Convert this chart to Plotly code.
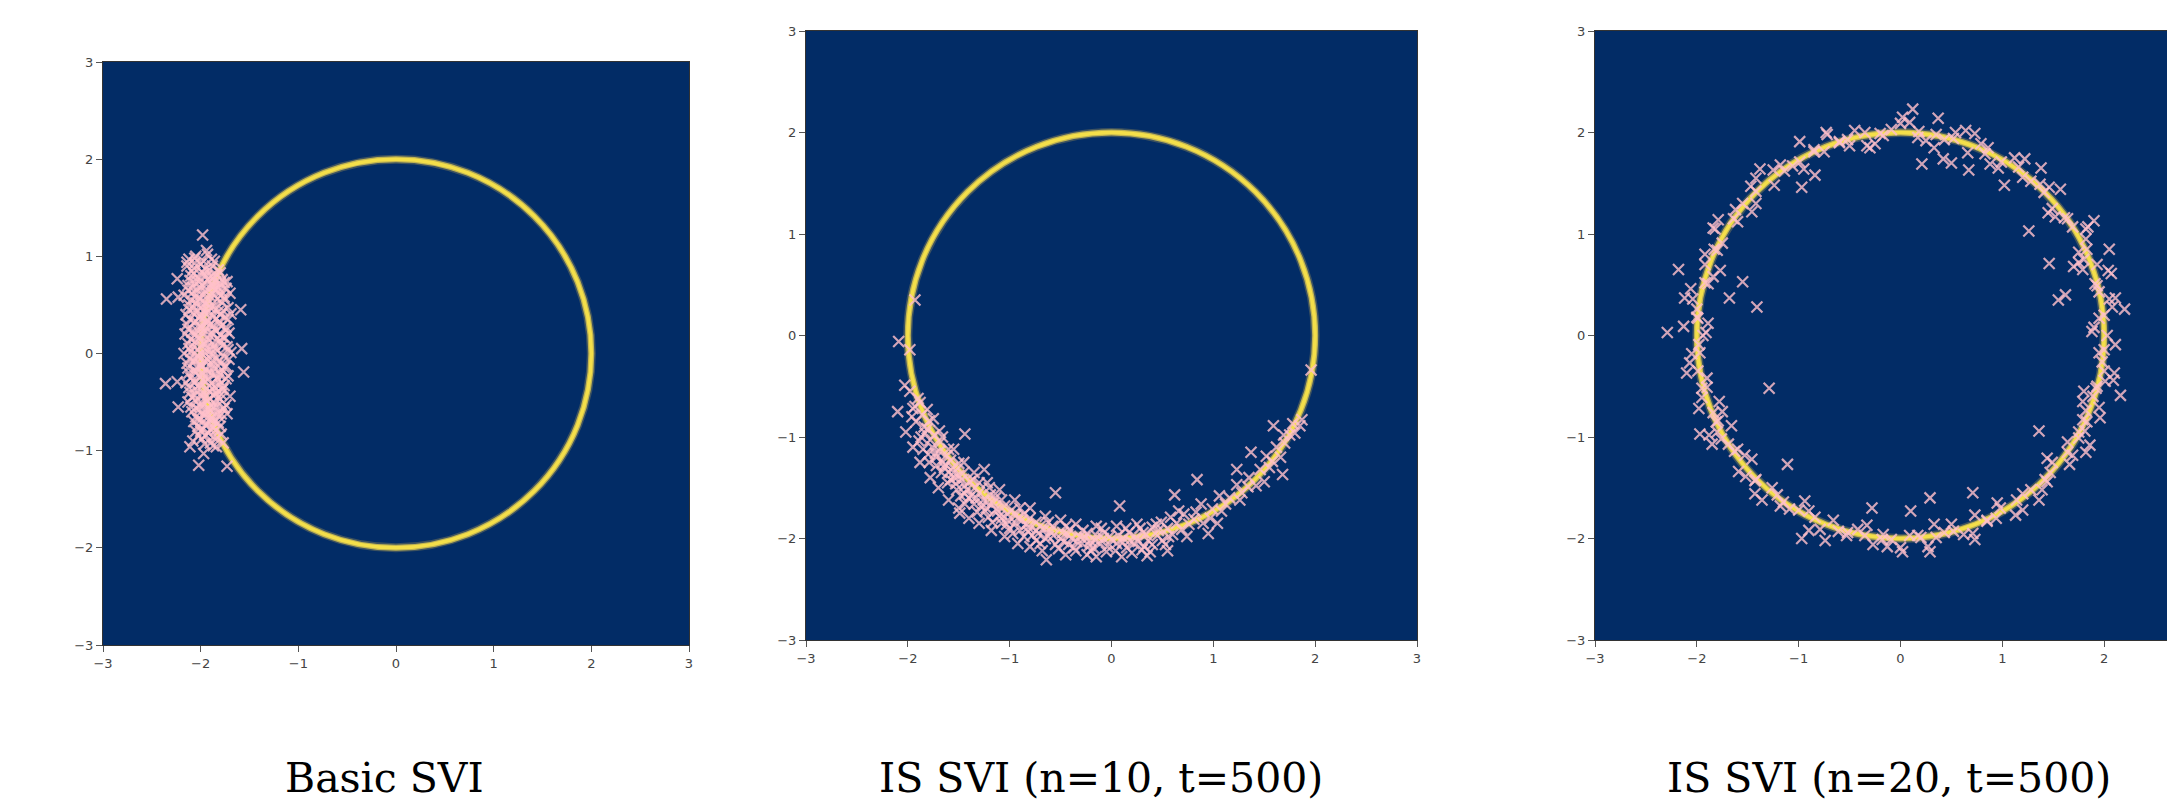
import plotly.graph_objects as go

# ---------------- data ----------------
titles = ["Basic SVI", "IS SVI (n=10, t=500)", "IS SVI (n=20, t=500)"]
tick_vals = [-3, -2, -1, 0, 1, 2, 3]
ring_radius = 2.0
ring_center = (0.0, 0.0)

# Panel 1: Basic SVI samples (x, y)
basic_svi_points = [
    (-1.98, 1.22), (-2.24, 0.77), (-2.35, 0.56), (-2.23, 0.58), (-1.59, 0.45), (-2.36, -0.31),
    (-2.24, -0.29), (-1.56, -0.19), (-2.23, -0.55), (-1.58, 0.05), (-1.73, -1.16), (-2.02, -1.15),
    (-1.94, 1.06), (-2.06, 0.98), (-2.14, 0.94), (-1.73, -0.62), (-1.70, -0.44), (-1.97, -1.03),
    (-2.11, -0.96), (-1.84, -0.96), (-1.77, -0.92), (-1.73, 0.74), (-1.70, 0.62),
    (-2.12, 0.97), (-2.05, 1.00), (-1.93, 1.02), (-1.86, 0.95),
    (-2.14, 0.90), (-2.07, 0.88), (-2.00, 0.92), (-1.95, 0.87), (-1.88, 0.90), (-1.82, 0.86),
    (-2.10, 0.80), (-2.03, 0.78), (-1.97, 0.82), (-1.90, 0.79), (-1.84, 0.81), (-1.78, 0.76),
    (-2.13, 0.70), (-2.06, 0.72), (-2.00, 0.68), (-1.94, 0.71), (-1.87, 0.69), (-1.80, 0.72), (-1.74, 0.67),
    (-2.17, 0.60), (-2.09, 0.62), (-2.02, 0.58), (-1.96, 0.61), (-1.90, 0.59), (-1.83, 0.63), (-1.76, 0.58),
    (-2.12, 0.50), (-2.05, 0.52), (-1.99, 0.48), (-1.93, 0.51), (-1.86, 0.49), (-1.79, 0.53), (-1.72, 0.47),
    (-2.15, 0.40), (-2.08, 0.42), (-2.01, 0.38), (-1.95, 0.41), (-1.89, 0.39), (-1.82, 0.43), (-1.75, 0.37), (-1.69, 0.41),
    (-2.14, 0.30), (-2.07, 0.32), (-2.00, 0.28), (-1.94, 0.31), (-1.87, 0.29), (-1.81, 0.33), (-1.74, 0.27),
    (-2.16, 0.20), (-2.09, 0.22), (-2.03, 0.18), (-1.97, 0.21), (-1.91, 0.19), (-1.84, 0.23), (-1.77, 0.17), (-1.71, 0.21),
    (-2.13, 0.10), (-2.06, 0.12), (-1.99, 0.08), (-1.93, 0.11), (-1.86, 0.09), (-1.80, 0.13), (-1.73, 0.07),
    (-2.17, 0.00), (-2.10, 0.02), (-2.03, -0.02), (-1.96, 0.01), (-1.90, -0.01), (-1.83, 0.03), (-1.76, -0.03), (-1.69, 0.01),
    (-2.14, -0.10), (-2.07, -0.08), (-2.00, -0.12), (-1.94, -0.09), (-1.88, -0.11), (-1.81, -0.07), (-1.74, -0.13),
    (-2.12, -0.20), (-2.05, -0.18), (-1.98, -0.22), (-1.92, -0.19), (-1.85, -0.21), (-1.78, -0.17), (-1.72, -0.23),
    (-2.15, -0.30), (-2.08, -0.28), (-2.01, -0.32), (-1.95, -0.29), (-1.89, -0.31), (-1.82, -0.27), (-1.76, -0.33),
    (-2.11, -0.40), (-2.04, -0.38), (-1.97, -0.42), (-1.91, -0.39), (-1.84, -0.41), (-1.78, -0.37),
    (-2.13, -0.50), (-2.06, -0.48), (-1.99, -0.52), (-1.93, -0.49), (-1.86, -0.51), (-1.80, -0.47), (-1.74, -0.53),
    (-2.09, -0.60), (-2.02, -0.58), (-1.96, -0.62), (-1.90, -0.59), (-1.83, -0.61), (-1.77, -0.57),
    (-2.07, -0.70), (-2.00, -0.68), (-1.94, -0.72), (-1.88, -0.69), (-1.82, -0.71),
    (-2.05, -0.80), (-1.98, -0.78), (-1.92, -0.82), (-1.85, -0.79), (-1.79, -0.83),
    (-2.08, -0.90), (-1.99, -0.88), (-1.90, -0.92), (-1.83, -0.87),
    (-2.09, 0.85), (-1.99, 0.84), (-1.91, 0.86), (-1.80, 0.83),
    (-2.11, 0.75), (-2.02, 0.74), (-1.93, 0.76), (-1.85, 0.74), (-1.76, 0.73),
    (-2.13, 0.65), (-2.04, 0.66), (-1.95, 0.64), (-1.86, 0.66), (-1.79, 0.64),
    (-2.10, 0.55), (-2.01, 0.56), (-1.92, 0.54), (-1.83, 0.56), (-1.75, 0.55),
    (-2.12, 0.45), (-2.03, 0.44), (-1.94, 0.46), (-1.85, 0.45), (-1.77, 0.44),
    (-2.11, 0.35), (-2.02, 0.36), (-1.93, 0.34), (-1.84, 0.36), (-1.72, 0.35),
    (-2.13, 0.25), (-2.04, 0.24), (-1.95, 0.26), (-1.86, 0.25), (-1.74, 0.24),
    (-2.10, 0.15), (-2.01, 0.16), (-1.92, 0.14), (-1.83, 0.15), (-1.75, 0.16),
    (-2.12, 0.05), (-2.03, 0.04), (-1.94, 0.06), (-1.85, 0.05), (-1.72, 0.04),
    (-2.11, -0.05), (-2.02, -0.04), (-1.93, -0.06), (-1.84, -0.05), (-1.71, -0.06),
    (-2.13, -0.15), (-2.04, -0.14), (-1.95, -0.16), (-1.86, -0.15), (-1.76, -0.14),
    (-2.10, -0.25), (-2.01, -0.24), (-1.92, -0.26), (-1.83, -0.25), (-1.74, -0.26),
    (-2.12, -0.35), (-2.03, -0.34), (-1.94, -0.36), (-1.85, -0.35), (-1.77, -0.36),
    (-2.09, -0.45), (-2.00, -0.44), (-1.91, -0.46), (-1.82, -0.45),
    (-2.10, -0.55), (-2.01, -0.54), (-1.92, -0.56), (-1.84, -0.55), (-1.76, -0.56),
    (-2.05, -0.65), (-1.97, -0.64), (-1.89, -0.66), (-1.81, -0.65),
    (-2.03, -0.75), (-1.95, -0.74), (-1.87, -0.76), (-1.80, -0.75),
    (-2.02, -0.85), (-1.95, -0.84), (-1.87, -0.86),
    (-2.06, 0.93), (-1.97, 0.95), (-1.89, 0.97), (-2.07, 0.82), (-1.94, 0.80), (-1.87, 0.78),
    (-2.08, 0.68), (-1.98, 0.70), (-1.89, 0.72), (-1.82, 0.68), (-2.06, 0.58), (-1.98, 0.54),
    (-1.88, 0.62), (-1.79, 0.60), (-2.07, 0.47), (-1.97, 0.44), (-1.90, 0.47), (-1.80, 0.40),
    (-2.05, 0.33), (-1.98, 0.36), (-1.90, 0.30), (-1.79, 0.28), (-2.06, 0.19), (-1.99, 0.26),
    (-1.88, 0.21), (-1.80, 0.19), (-2.07, 0.07), (-1.97, 0.10), (-1.89, 0.04), (-1.78, 0.08),
    (-2.06, -0.05), (-1.97, -0.02), (-1.88, -0.07), (-1.79, -0.10), (-2.07, -0.18), (-1.99, -0.14),
    (-1.89, -0.20), (-1.80, -0.22), (-2.06, -0.30), (-1.98, -0.27), (-1.88, -0.36), (-1.80, -0.32),
    (-2.06, -0.43), (-1.96, -0.46), (-1.87, -0.43), (-1.79, -0.42), (-2.05, -0.56), (-1.95, -0.58),
    (-1.87, -0.55), (-1.79, -0.62), (-2.03, -0.68), (-1.93, -0.66), (-1.85, -0.70), (-2.00, -0.80),
    (-1.90, -0.78), (-1.96, -0.93), (-1.87, -0.95),
]

# Panel 2: IS SVI (n=10) samples
is_svi_n10_points = [
    (-1.93, 0.35), (-2.09, -0.06), (-2.03, -0.49), (-1.98, -0.14),
    (-1.90, -0.62), (-1.93, -0.70), (-1.81, -0.73), (-1.92, -0.85), (-1.79, -0.84), (-1.81, -0.92),
    (-1.87, -1.00), (-1.69, -0.94), (-1.78, -1.03), (-1.68, -1.05), (-1.80, -1.17), (-1.69, -1.14),
    (-1.60, -1.12), (-1.66, -1.25), (-1.58, -1.23), (-1.67, -1.35), (-1.50, -1.26), (-1.55, -1.35),
    (-1.58, -1.42), (-1.46, -1.36), (-1.47, -1.42), (-1.52, -1.52), (-1.39, -1.44), (-1.42, -1.52),
    (-1.30, -1.45), (-1.38, -1.58), (-1.30, -1.55), (-1.35, -1.66), (-1.26, -1.62), (-1.19, -1.57),
    (-1.23, -1.70), (-1.16, -1.65), (-1.21, -1.79), (-1.12, -1.73), (-1.05, -1.68), (-1.08, -1.80),
    (-1.02, -1.76), (-1.03, -1.86), (-0.94, -1.77), (-0.94, -1.85), (-0.86, -1.76), (-0.90, -1.92),
    (-0.83, -1.86), (-0.82, -1.93), (-0.74, -1.84), (-0.74, -1.92), (-0.74, -2.02), (-0.66, -1.91),
    (-0.65, -2.00), (-0.58, -1.88), (-0.57, -1.97), (-0.55, -2.06), (-0.48, -1.94), (-0.47, -2.03),
    (-0.41, -1.91), (-0.39, -2.00), (-0.37, -2.09), (-0.31, -1.98), (-0.29, -2.05), (-0.24, -1.95),
    (-0.21, -2.02), (-0.18, -2.09), (-0.14, -1.98), (-0.11, -2.05), (-0.07, -1.94), (-0.04, -2.08),
    (0.00, -2.01), (0.04, -2.12), (0.07, -1.97), (0.11, -2.04), (0.15, -2.09), (0.17, -1.94),
    (0.22, -2.05), (0.24, -1.99), (0.30, -2.11), (0.31, -1.94), (0.36, -2.02), (0.40, -2.06),
    (0.40, -1.89), (0.45, -1.97), (0.50, -2.02), (0.49, -1.84), (0.55, -1.90), (0.60, -1.96),
    (0.58, -1.79), (0.64, -1.85), (0.69, -1.91), (0.71, -1.76), (0.81, -1.81), (0.90, -1.85),
    (0.88, -1.66), (0.99, -1.71), (1.08, -1.73), (1.06, -1.58), (1.16, -1.60), (1.26, -1.62),
    (1.23, -1.47), (1.34, -1.49), (1.35, -1.40), (1.50, -1.44), (1.46, -1.32), (1.55, -1.30),
    (1.52, -1.19), (1.66, -1.20), (1.62, -1.10), (1.70, -1.06), (1.69, -0.98), (1.80, -0.96),
    (1.78, -0.87), (1.87, -0.83),
    (-1.44, -0.97), (1.59, -0.89), (1.85, -0.89), (1.68, -1.37), (1.37, -1.15), (1.23, -1.32),
    (0.84, -1.42), (0.62, -1.57), (-0.55, -1.55), (-1.49, -1.75), (-0.64, -2.21), (-0.24, -2.16),
    (0.08, -1.68), (0.74, -1.98), (0.95, -1.95), (1.04, -1.85), (-1.25, -1.32), (-1.79, -1.25),
    (-1.89, -1.04), (1.96, -0.34),
    (-1.86, -0.78), (-1.74, -0.98), (-1.62, -1.18), (-1.56, -1.30), (-1.44, -1.48), (-1.34, -1.50),
    (-1.28, -1.68), (-1.14, -1.60), (-1.10, -1.78), (-0.98, -1.72), (-0.88, -1.82), (-0.78, -1.97),
    (-0.70, -1.88), (-0.60, -1.93), (-0.50, -2.00), (-0.43, -1.96), (-0.34, -2.03), (-0.26, -1.99),
    (-0.16, -2.02), (-0.02, -1.98), (0.12, -2.00), (0.26, -2.03), (0.34, -1.96), (0.46, -1.92),
    (0.53, -2.06), (-1.72, -1.20), (-1.95, -0.72), (-1.50, -1.38), (-1.00, -1.90), (-0.90, -1.70),
    (-1.98, -0.55), (-1.88, -0.66), (-1.96, -0.80), (-1.84, -0.90), (-1.76, -1.10), (-1.85, -1.12),
    (-1.72, -1.28), (-1.64, -1.30), (-1.61, -1.45), (-1.53, -1.46), (-1.48, -1.58), (-1.40, -1.60),
    (-1.32, -1.74), (-1.24, -1.73), (-1.17, -1.84), (-1.08, -1.85), (-0.97, -1.95), (-0.86, -1.98),
    (-0.80, -1.80), (-0.70, -2.05), (-0.62, -1.84), (-0.52, -2.10), (-0.45, -1.88), (-0.35, -2.12),
    (-0.28, -1.92), (-0.20, -2.12), (-0.10, -1.90), (-0.05, -2.13), (0.05, -2.05), (0.14, -1.90),
    (0.20, -2.14), (0.28, -1.90), (0.38, -2.13), (0.44, -1.86), (0.56, -1.98), (0.66, -1.73),
    (0.76, -1.86), (0.83, -1.74), (0.97, -1.80), (1.12, -1.66), (1.28, -1.55), (1.42, -1.48),
    (1.58, -1.24), (1.75, -0.98), (-1.60, -1.35), (-1.36, -1.42), (-1.20, -1.50), (-1.44, -1.66),
    (-1.08, -1.62),
    (-2.10, -0.75), (-2.02, -0.95), (-1.95, -1.10), (-1.88, -1.25), (-1.78, -1.40), (-1.70, -1.50),
    (-1.60, -1.62), (-1.50, -1.70), (-1.40, -1.80), (-1.30, -1.85), (-1.18, -1.92), (-1.05, -1.98),
    (-0.92, -2.05), (-0.80, -2.08), (-0.68, -2.12), (-0.45, -2.16), (-0.15, -2.18), (0.10, -2.18),
    (0.35, -2.17), (0.55, -2.12),
    (-1.75, -0.82), (-1.66, -1.00), (-1.55, -1.12), (-1.45, -1.25), (-1.35, -1.35), (-1.22, -1.45),
    (-1.10, -1.52), (-0.95, -1.62), (-0.80, -1.70), (-0.65, -1.78), (-0.50, -1.82), (-0.35, -1.86),
    (-0.15, -1.88), (0.05, -1.88), (0.25, -1.86),
    (-1.83, -0.96), (-1.73, -1.16), (-1.63, -1.27), (-1.54, -1.40), (-1.44, -1.56), (-1.33, -1.60),
    (-1.22, -1.64), (-1.13, -1.71), (-1.02, -1.82), (-0.92, -1.80), (-0.82, -1.89), (-0.72, -1.95),
    (-0.62, -1.98), (-0.42, -2.06), (-0.22, -2.07), (-0.08, -2.00), (0.18, -2.02), (0.32, -2.08),
]

# Panel 3: IS SVI (n=20) samples
is_svi_n20_points = [
    (2.03, 0.00), (1.95, 0.17), (2.05, 0.36), (1.91, 0.51), (1.93, 0.70), (1.75, 0.82),
    (1.82, 1.05), (1.64, 1.15), (1.49, 1.25), (1.46, 1.46), (1.28, 1.52), (1.22, 1.74),
    (0.99, 1.71), (0.86, 1.85), (0.66, 1.80), (0.54, 2.00), (0.35, 1.98), (0.17, 1.95),
    (0.00, 2.09), (-0.17, 1.97), (-0.35, 2.00), (-0.50, 1.87), (-0.72, 1.98), (-0.85, 1.81),
    (-0.99, 1.71), (-1.18, 1.68), (-1.24, 1.48), (-1.47, 1.47), (-1.55, 1.30), (-1.60, 1.12),
    (-1.82, 1.05), (-1.80, 0.84), (-1.92, 0.70), (-1.89, 0.51), (-2.04, 0.36), (-1.99, 0.17),
    (-1.94, 0.00), (-2.05, -0.18), (-1.99, -0.35), (-1.90, -0.51), (-1.98, -0.72), (-1.79, -0.84),
    (-1.76, -1.02), (-1.60, -1.12), (-1.59, -1.34), (-1.42, -1.42), (-1.26, -1.50), (-1.18, -1.68),
    (-1.00, -1.72), (-0.90, -1.92), (-0.66, -1.82), (-0.53, -1.97), (-0.35, -1.97), (-0.17, -1.96),
    (0.00, -2.09), (0.17, -1.97), (0.35, -1.99), (0.50, -1.86), (0.71, -1.95), (0.85, -1.82),
    (0.98, -1.70), (1.20, -1.72), (1.28, -1.52), (1.44, -1.44), (1.49, -1.25), (1.69, -1.18),
    (1.75, -1.01), (1.79, -0.83), (1.95, -0.71), (1.92, -0.52), (2.00, -0.35), (1.95, -0.17),
    (1.90, 0.08), (2.08, 0.28), (1.95, 0.43), (2.04, 0.64), (1.80, 0.75), (1.82, 0.95),
    (1.69, 1.07), (1.52, 1.17), (1.57, 1.44), (1.37, 1.49), (1.20, 1.56), (1.12, 1.75),
    (0.88, 1.69), (0.79, 1.89), (0.64, 2.02), (0.43, 1.93), (0.25, 1.92), (0.09, 2.10),
    (-0.09, 2.03), (-0.25, 1.89), (-0.45, 2.02), (-0.60, 1.91), (-0.75, 1.81), (-0.99, 1.91),
    (-1.06, 1.67), (-1.25, 1.63), (-1.42, 1.55), (-1.42, 1.30), (-1.62, 1.24), (-1.79, 1.14),
    (-1.75, 0.91), (-1.92, 0.80), (-1.84, 0.58), (-2.06, 0.46), (-2.00, 0.26), (-2.13, 0.09),
    (-1.98, -0.09), (-2.07, -0.27), (-1.90, -0.42), (-1.95, -0.61), (-1.84, -0.76), (-1.88, -0.98),
    (-1.69, -1.07), (-1.53, -1.18), (-1.52, -1.39), (-1.43, -1.56), (-1.21, -1.57), (-1.09, -1.71),
    (-0.90, -1.73), (-0.79, -1.91), (-0.61, -1.93), (-0.42, -1.91), (-0.27, -2.06), (-0.09, -2.01),
    (0.09, -1.97), (0.27, -2.08), (0.43, -1.94), (0.62, -1.96), (0.73, -1.77), (0.94, -1.80),
    (1.13, -1.77), (1.20, -1.56), (1.39, -1.52), (1.47, -1.35), (1.66, -1.27), (1.64, -1.05),
    (1.81, -0.94), (1.96, -0.81), (1.89, -0.60), (2.01, -0.45), (1.98, -0.26), (2.11, -0.09),
    (-2.29, 0.03), (-2.18, 0.65), (-1.55, 0.53), (-1.41, 0.28), (-1.29, -0.52), (1.46, 0.71),
    (1.26, 1.03), (2.20, 0.26), (2.16, -0.59), (1.90, 1.13), (2.05, 0.85), (2.07, 0.61),
    (0.12, 2.23), (0.37, 2.14), (1.36, -0.94), (-0.97, 1.46), (-0.84, 1.58), (1.02, 1.48),
    (0.67, 1.63), (0.21, 1.69), (0.42, 1.74), (-0.28, -1.70), (0.71, -1.55), (0.29, -1.60),
    (0.10, -1.73), (0.29, -2.13), (-0.13, -2.08), (-0.97, -2.00), (-1.11, -1.27), (-1.66, -0.89),
    (-1.97, -0.97), (-1.68, 0.37), (-1.89, 0.12), (1.82, -1.15), (1.82, -0.74), (2.09, -0.44),
    (1.75, 0.72), (1.70, 0.68), (1.62, 0.40), (1.55, 0.35), (1.80, -0.55), (1.75, -0.95),
    (-1.75, -0.75), (-1.80, -0.95), (-0.60, 1.90), (-0.30, 1.85), (0.50, 1.70),
    (1.88, 0.04), (2.11, 0.37), (1.79, 0.65), (1.84, 1.07), (1.45, 1.21), (1.38, 1.65),
    (0.96, 1.65), (0.73, 1.99), (0.33, 1.85), (0.02, 2.15), (-0.33, 1.87), (-0.73, 2.00),
    (-0.95, 1.64), (-1.38, 1.64), (-1.46, 1.22), (-1.84, 1.06), (-1.77, 0.64), (-2.12, 0.37),
    (-1.91, 0.03), (-2.10, -0.37), (-1.78, -0.65), (-1.85, -1.07), (-1.46, -1.22), (-1.36, -1.62),
    (-0.94, -1.63), (-0.74, -2.02), (-0.33, -1.87), (0.02, -2.13), (0.33, -1.86), (0.73, -2.01),
    (0.95, -1.65), (1.36, -1.62), (1.44, -1.21), (1.86, -1.08), (1.79, -0.65), (2.10, -0.37),
    (2.00, 0.20), (1.93, 0.49), (1.83, 0.85), (1.61, 1.16), (1.41, 1.41), (1.16, 1.66),
    (0.83, 1.79), (0.52, 1.94), (0.18, 2.01), (-0.20, 1.99), (-0.52, 1.93), (-0.85, 1.83),
    (-1.14, 1.62), (-1.42, 1.42), (-1.64, 1.15), (-1.83, 0.85), (-1.92, 0.52), (-2.00, 0.18),
    (-1.97, -0.17), (-1.95, -0.52), (-1.81, -0.85), (-1.63, -1.14), (-1.43, -1.43), (-1.15, -1.64),
    (-0.84, -1.79), (-0.52, -1.94), (-0.18, -2.01), (0.20, -1.99), (0.52, -1.93), (0.85, -1.83),
    (1.14, -1.62), (1.42, -1.42), (1.64, -1.15), (1.83, -0.85), (1.93, -0.50), (2.00, -0.14),
]

panels_points = [basic_svi_points, is_svi_n10_points, is_svi_n20_points]

# ---------------- style / layout ----------------
W, H = 2167, 803
BG = "#022c66"
PINK = "rgba(255,192,203,0.82)"
# pixel boxes (left, right, top, bottom) for the three panels
boxes = [(103, 689, 62, 645), (806, 1417, 31, 640), (1595, 2167, 31, 640)]
x_ranges = [[-3, 3], [-3, 3], [-3, -3 + (2167 - 1595) / (611 / 6.0)]]
title_x_px = [384, 1101, 1889]
title_y_px = 778

fig = go.Figure()
for i, pts in enumerate(panels_points):
    xs = [p[0] for p in pts]
    ys = [p[1] for p in pts]
    sfx = "" if i == 0 else str(i + 1)
    fig.add_trace(go.Scatter(
        x=xs, y=ys, mode="markers", xaxis="x" + sfx, yaxis="y" + sfx,
        marker=dict(symbol="x-thin", size=11, color=PINK,
                    line=dict(color=PINK, width=2.2)),
        showlegend=False, hoverinfo="skip"))

layout = dict(width=W, height=H, margin=dict(l=0, r=0, t=0, b=0, pad=0), autosize=False,
              paper_bgcolor="white", plot_bgcolor=BG, showlegend=False)
shapes = []
annotations = []
tick_font = dict(family="DejaVu Sans", size=13, color="#444444")
for i, (l, r, t, b) in enumerate(boxes):
    sfx = "" if i == 0 else str(i + 1)
    xa = dict(domain=[l / W, r / W], range=x_ranges[i], tickvals=tick_vals,
              showgrid=False, zeroline=False, ticks="outside", ticklen=6, tickwidth=1,
              tickcolor="#555555", tickfont=tick_font, showline=True, linecolor="#333333",
              linewidth=1, mirror=True, anchor="y" + sfx, fixedrange=True, automargin=False)
    ya = dict(domain=[1 - b / H, 1 - t / H], range=[-3, 3], tickvals=tick_vals,
              showgrid=False, zeroline=False, ticks="outside", ticklen=6, tickwidth=1,
              tickcolor="#555555", tickfont=tick_font, showline=True, linecolor="#333333",
              linewidth=1, mirror=(i < 2), anchor="x" + sfx, fixedrange=True, automargin=False)
    layout["xaxis" + sfx] = xa
    layout["yaxis" + sfx] = ya
    cx, cy = ring_center
    for width, col in [(9, "rgba(120,120,90,0.5)"), (6, "rgba(214,196,80,0.85)"), (3.5, "#f4df4a")]:
        shapes.append(dict(type="circle", xref="x" + sfx, yref="y" + sfx,
                           x0=cx - ring_radius, x1=cx + ring_radius,
                           y0=cy - ring_radius, y1=cy + ring_radius,
                           line=dict(color=col, width=width), layer="below"))
    annotations.append(dict(text=titles[i], xref="paper", yref="paper",
                            x=title_x_px[i] / W, y=1 - title_y_px / H,
                            xanchor="center", yanchor="middle", showarrow=False,
                            font=dict(family="DejaVu Serif", size=41, color="#000000")))
layout["shapes"] = shapes
layout["annotations"] = annotations
fig.update_layout(**layout)
fig.write_html(
    "out.html",
    config={"displayModeBar": False},
    post_script="document.body.style.margin='0';document.body.style.padding='0';"
                "document.body.style.overflow='hidden';",
)
